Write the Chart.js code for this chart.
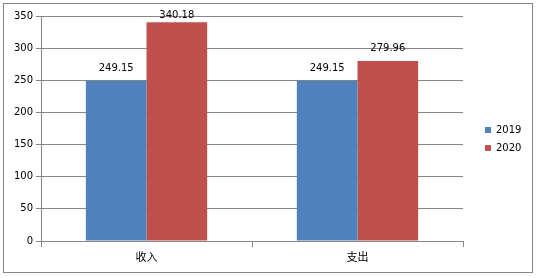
<!DOCTYPE html>
<html>
<head>
<meta charset="utf-8">
<script src="https://cdn.jsdelivr.net/npm/chart.js@4/dist/chart.umd.min.js"></script>
<style>
html,body{margin:0;padding:0;background:#fff;}
#wrap{position:absolute;left:0;top:0;width:539px;height:278px;}
</style>
</head>
<body>
<div id="wrap"><canvas id="c" width="539" height="278"></canvas></div>
<script>
const categories = ['收入', '支出'];
const seriesNames = ['2019', '2020'];
const values2019 = [249.15, 249.15];
const values2020 = [340.18, 279.96];
const yTicks = [0, 50, 100, 150, 200, 250, 300, 350];

const GRID = '#868686';
const FONT = 'DejaVu Sans';

const framePlugin = {
  id: 'frame',
  beforeDraw(chart) {
    const ctx = chart.ctx;
    ctx.save();
    ctx.fillStyle = '#fff';
    ctx.fillRect(0, 0, chart.width, chart.height);
    ctx.strokeStyle = GRID;
    ctx.lineWidth = 1;
    ctx.strokeRect(3.5, 3.5, 529, 269);
    ctx.restore();
  }
};

const legendPlugin = {
  id: 'legendFix',
  beforeLayout(chart) {
    const lg = chart.legend;
    if (lg && !lg._wrapped) {
      const f = lg.fit;
      lg.fit = function () { f.call(this); this.width = 76; };
      lg._wrapped = true;
    }
  },
  afterLayout(chart) {
    const lg = chart.legend;
    if (lg) {
      lg.left = 477;
      lg.top = 0;
      lg.bottom = chart.height;
      lg.height = chart.height;
    }
  }
};

const labelPlugin = {
  id: 'valueLabels',
  afterDatasetsDraw(chart) {
    const ctx = chart.ctx;
    ctx.save();
    ctx.font = '10px "' + FONT + '"';
    ctx.fillStyle = '#000';
    ctx.textAlign = 'center';
    ctx.textBaseline = 'middle';
    chart.data.datasets.forEach((ds, i) => {
      const meta = chart.getDatasetMeta(i);
      meta.data.forEach((el, j) => {
        let y = el.y - 12.5;
        if (y < chart.chartArea.top - 1) y = chart.chartArea.top - 1;
        ctx.fillText(ds.data[j].toFixed(2), el.x, y);
      });
    });
    ctx.restore();
  }
};

new Chart(document.getElementById('c'), {
  type: 'bar',
  data: {
    labels: categories,
    datasets: [
      { label: seriesNames[0], data: values2019, backgroundColor: '#4F81BD', borderWidth: 0 },
      { label: seriesNames[1], data: values2020, backgroundColor: '#C0504D', borderWidth: 0 }
    ]
  },
  options: {
    responsive: false,
    animation: false,
    devicePixelRatio: 1,
    layout: { padding: { top: 16, left: 0, right: 0, bottom: 0 } },
    datasets: { bar: { barPercentage: 1, categoryPercentage: 0.575 } },
    plugins: {
      legend: {
        position: 'right',
        labels: {
          boxWidth: 6, boxHeight: 6, padding: 8,
          color: '#000',
          font: { family: FONT, size: 10 }
        }
      },
      tooltip: { enabled: false }
    },
    scales: {
      x: {
        afterFit(s) { s.height = 37; },
        grid: { display: true, drawOnChartArea: false, drawTicks: true, tickLength: 6, color: GRID, offset: true },
        border: { display: true, color: GRID },
        ticks: { color: '#000', padding: 3, font: { family: '"Noto Sans CJK SC"', size: 11 } }
      },
      y: {
        min: 0, max: 350,
        afterFit(s) { s.width = 41; },
        afterBuildTicks(s) { s.ticks = yTicks.map(v => ({ value: v })); },
        grid: { color: GRID, tickLength: 5, drawTicks: true },
        border: { display: true, color: GRID },
        ticks: { color: '#000', padding: 3, font: { family: FONT, size: 10 } }
      }
    }
  },
  plugins: [framePlugin, legendPlugin, labelPlugin]
});
</script>
</body>
</html>
